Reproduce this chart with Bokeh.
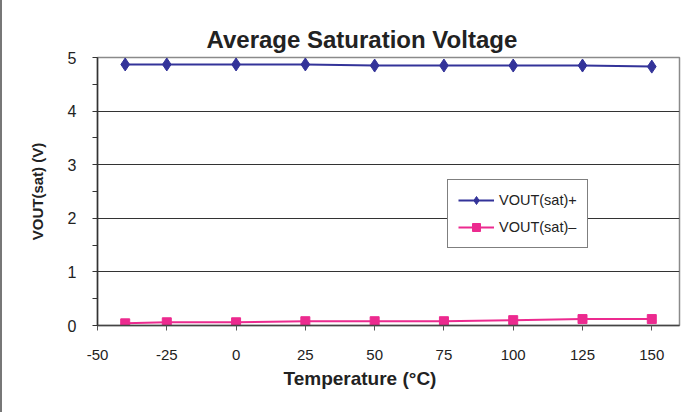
from bokeh.plotting import figure
from bokeh.models import Range1d, FixedTicker, Legend, LegendItem, Title
from bokeh.embed import file_html
from bokeh.resources import INLINE

# ---- data ----
temps = [-40, -25, 0, 25, 50, 75, 100, 125, 150]
vout_pos = [4.87, 4.87, 4.87, 4.87, 4.85, 4.85, 4.85, 4.85, 4.83]
vout_neg = [0.04, 0.06, 0.06, 0.08, 0.08, 0.08, 0.10, 0.12, 0.12]
x_ticks = [-50, -25, 0, 25, 50, 75, 100, 125, 150]
x_tick_labels = ["-50", "-25", "0", "25", "50", "75", "100", "125", "150"]
y_ticks = [0, 1, 2, 3, 4, 5]
y_minor = [0.5, 1.5, 2.5, 3.5, 4.5]
title_text = "Average Saturation Voltage"
x_title = "Temperature (°C)"
y_title = "VOUT(sat) (V)"
labels = ["VOUT(sat)+", "VOUT(sat)–"]

FONT = "Liberation Sans"
BLUE = "#333399"
PINK = "#EC2A8F"

p = figure(width=697, height=412, output_backend="svg", toolbar_location=None,
           x_range=Range1d(-50, 160), y_range=Range1d(0, 5),
           min_border_left=97, min_border_right=18, min_border_top=57,
           min_border_bottom=87)
p.background_fill_color = "white"
p.border_fill_alpha = 0
p.outline_line_color = "#8a8a8a"
p.outline_line_width = 1.5
p.styles = {"box-shadow": "inset 5px 2px 0 -3px #777777", "background": "white"}

p.xgrid.visible = False
p.ygrid.ticker = FixedTicker(ticks=[t for t in y_ticks if 0 < t < 5])
p.ygrid.grid_line_color = "#333333"
p.ygrid.grid_line_width = 1

# x axis
p.xaxis.ticker = FixedTicker(ticks=x_ticks)
p.xaxis.major_label_overrides = {t: s for t, s in zip(x_ticks, x_tick_labels)}
p.xaxis.major_tick_out = 5
p.xaxis.major_tick_in = 0
p.xaxis.minor_tick_out = 0
p.xaxis.minor_tick_in = 0
p.xaxis.axis_line_color = "#444444"
p.xaxis.axis_line_width = 1.5
p.xaxis.major_tick_line_color = "#555555"
p.xaxis.major_label_text_font = FONT
p.xaxis.major_label_text_font_size = "15px"
p.xaxis.major_label_text_color = "#222222"
p.xaxis.major_label_standoff = 19

# y axis
p.yaxis.ticker = FixedTicker(ticks=y_ticks, minor_ticks=y_minor)
p.yaxis.major_tick_out = 5
p.yaxis.major_tick_in = 0
p.yaxis.minor_tick_out = 5
p.yaxis.minor_tick_in = 0
p.yaxis.axis_line_color = "#333333"
p.yaxis.axis_line_width = 1.5
p.yaxis.major_tick_line_color = "#333333"
p.yaxis.minor_tick_line_color = "#333333"
p.yaxis.major_label_text_font = FONT
p.yaxis.major_label_text_font_size = "16px"
p.yaxis.major_label_text_color = "#222222"
p.yaxis.major_label_standoff = 16
p.yaxis.axis_label = y_title
p.yaxis.axis_label_text_font = FONT
p.yaxis.axis_label_text_font_style = "bold"
p.yaxis.axis_label_text_font_size = "15px"
p.yaxis.axis_label_text_color = "#222222"
p.yaxis.axis_label_standoff = 19

# series
l1 = p.line(temps, vout_pos, line_color=BLUE, line_width=2)
m1 = p.scatter(temps, vout_pos, marker="diamond", size=13, fill_color=BLUE, line_color=BLUE)
l2 = p.line(temps, vout_neg, line_color=PINK, line_width=2)
m2 = p.scatter(temps, vout_neg, marker="square", size=9, fill_color=PINK, line_color=PINK)

legend = Legend(items=[LegendItem(label=labels[0], renderers=[l1, m1]),
                       LegendItem(label=labels[1], renderers=[l2, m2])],
                location=(350, 77))
legend.border_line_color = "black"
legend.border_line_width = 1
legend.background_fill_color = "white"
legend.background_fill_alpha = 1
legend.padding = 10
legend.spacing = 7
legend.glyph_width = 36
legend.glyph_height = 20
legend.label_height = 20
legend.label_standoff = 5
legend.label_text_font = FONT
legend.label_text_font_size = "14.5px"
legend.label_text_color = "#222222"
legend.margin = 0
p.add_layout(legend, "center")

# chart title and x-axis title (left-aligned with offsets so they centre on the chart area)
p.add_layout(Title(text=title_text, align="left", offset=109, text_font=FONT,
                   text_font_style="bold", text_font_size="24px",
                   text_color="#222222", standoff=10), "above")
p.add_layout(Title(text=x_title, align="left", offset=186, text_font=FONT,
                   text_font_style="bold", text_font_size="19px",
                   text_color="#222222", standoff=7), "below")

open("out.html", "w").write(file_html(p, INLINE))
